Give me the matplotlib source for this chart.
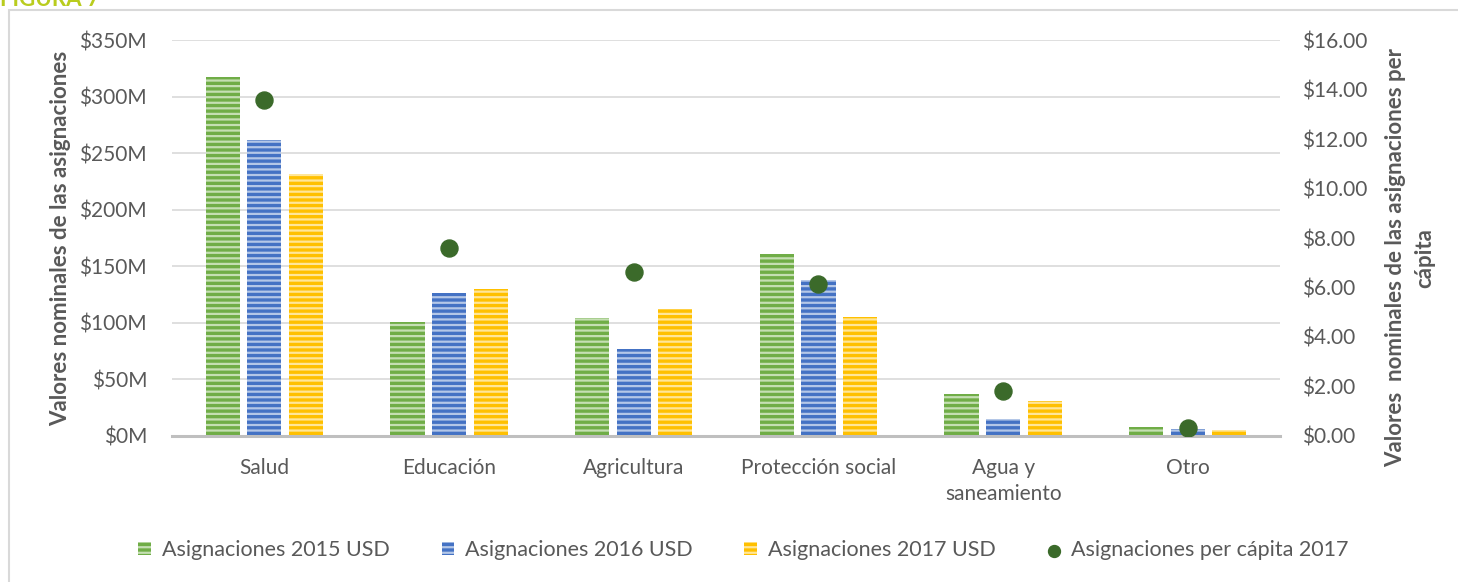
import numpy as np
import matplotlib.pyplot as plt
from matplotlib.patches import Rectangle

plt.rcParams['font.family'] = ['Lato', 'DejaVu Sans']
plt.rcParams['hatch.linewidth'] = 1.6

# datos
categorias = ['Salud', 'Educación', 'Agricultura', 'Protección social',
              'Agua y\nsaneamiento', 'Otro']
asig_2015 = [317, 101, 104, 161, 37, 8]          # millones USD
asig_2016 = [262, 126, 77, 138, 15, 6]
asig_2017 = [232, 130, 112, 105, 31, 5]
per_capita_2017 = [13.58, 7.6, 6.63, 6.14, 1.82, 0.32]

verde = '#70AD47'
azul = '#4472C4'
amarillo = '#FFC000'
punto = '#3B6A2A'
gris = '#595959'

fig = plt.figure(figsize=(14.58, 5.82), dpi=100)
ax = fig.add_axes([0.118, 0.251, 0.76, 0.68])
ax2 = ax.twinx()

x = np.arange(len(categorias))
w = 0.185
series = [(asig_2015, verde, '#C5DFB3', 'Asignaciones 2015 USD', -0.225),
          (asig_2016, azul, '#B4C7E7', 'Asignaciones 2016 USD', 0.0),
          (asig_2017, amarillo, '#FFE699', 'Asignaciones 2017 USD', 0.225)]
for vals, col, claro, nombre, off in series:
    ax.bar(x + off, vals, w, color=col, edgecolor=claro, linewidth=0,
           hatch='---', label=nombre, zorder=3)

ax2.scatter(x, per_capita_2017, s=150, color=punto, zorder=4,
            label='Asignaciones per cápita 2017')

ax.set_xlim(-0.5, len(categorias) - 0.5)
ax.set_ylim(0, 350)
ax2.set_ylim(0, 16)
ax.set_yticks(np.arange(0, 351, 50))
ax.set_yticklabels([f'${v}M' for v in range(0, 351, 50)])
ax2.set_yticks(np.arange(0, 17, 2))
ax2.set_yticklabels([f'${v:.2f}' for v in range(0, 17, 2)])
ax.set_xticks(x)
ax.set_xticklabels(categorias, linespacing=1.35)

ax.grid(axis='y', color='#D9D9D9', linewidth=1.2, zorder=0)
for a in (ax, ax2):
    for s in a.spines.values():
        s.set_visible(False)
    a.tick_params(length=0, labelsize=15, colors=gris)
ax.spines['bottom'].set_visible(True)
ax.spines['bottom'].set_color('#BFBFBF')
ax.spines['bottom'].set_linewidth(2.2)
ax.spines['bottom'].set_zorder(5)
ax.tick_params(axis='x', pad=16)
ax.tick_params(axis='y', pad=18)
ax2.tick_params(axis='y', pad=16)

ax.set_ylabel('Valores nominales de las asignaciones', fontsize=16,
              fontweight='bold', color=gris, labelpad=6)
ax2.set_ylabel('Valores  nominales de las asignaciones per\ncápita',
               fontsize=16, fontweight='bold', color=gris,
               rotation=90, linespacing=1.45)
ax2.yaxis.set_label_coords(1.095, 0.45)

h1, l1 = ax.get_legend_handles_labels()
h2, l2 = ax2.get_legend_handles_labels()
fig.legend(h1 + h2, l1 + l2, loc='center', bbox_to_anchor=(0.51, 0.055),
           ncol=4, frameon=False, fontsize=15.5, labelcolor=gris,
           handlelength=0.6, handleheight=0.6, columnspacing=2.4,
           handletextpad=0.5, markerscale=0.7)

fig.patches.append(Rectangle((0.006, -0.05), 1.2, 1.033, transform=fig.transFigure,
                             fill=False, edgecolor='#D9D9D9', linewidth=1.5))
fig.text(0.0, 1.0, 'FIGURA 7', color='#B9CC1E', fontsize=16, fontweight='bold',
         va='center', ha='left')

fig.savefig('out.png', dpi=100)
